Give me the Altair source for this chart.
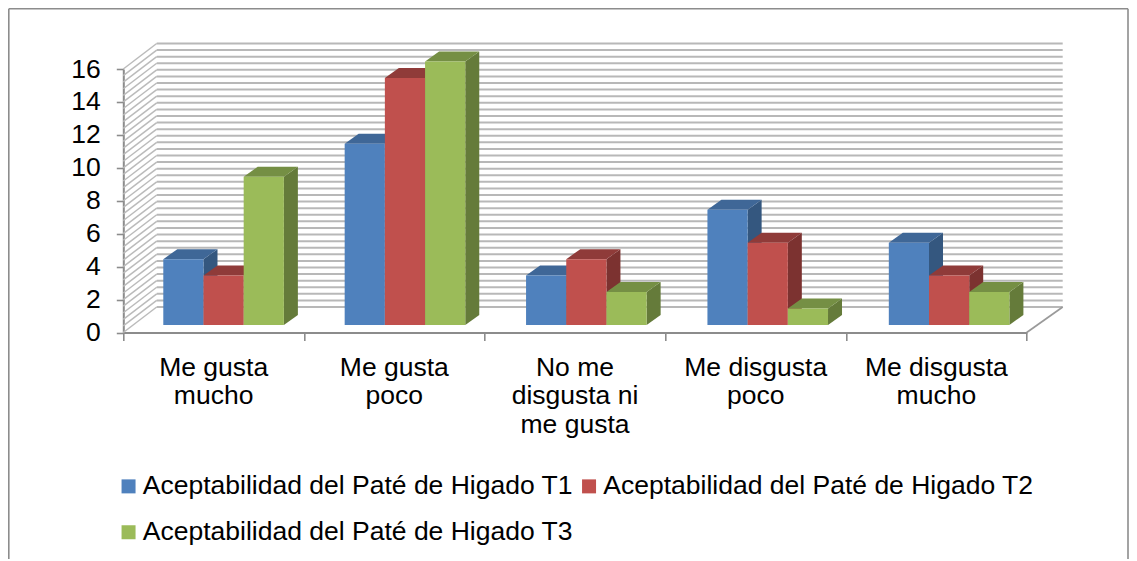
import altair as alt
import pandas as pd

categories = ["Me gusta\nmucho", "Me gusta\npoco", "No me\ndisgusta ni\nme gusta", "Me disgusta\npoco", "Me disgusta\nmucho"]
series = ["Aceptabilidad del Paté de Higado T1", "Aceptabilidad del Paté de Higado T2", "Aceptabilidad del Paté de Higado T3"]
t1 = [4, 11, 3, 7, 5]
t2 = [3, 15, 4, 5, 3]
t3 = [9, 16, 2, 1, 2]
front_colors = ["#4F81BD", "#C0504D", "#9BBB59"]
top_colors = ["#3F6797", "#8F3B39", "#758F44"]
side_colors = ["#34577F", "#7C3230", "#657B3A"]
y_ticks = [0, 2, 4, 6, 8, 10, 12, 14, 16]
x_ticks = [0, 1, 2, 3, 4, 5]

FONT = "Liberation Sans"
FS = 26.5
PX_X = 180.7   # pixels per category
PX_Y = 16.47   # pixels per value unit
WALL_L = 33.4 / PX_X
WALL_R = 36 / PX_X
WALL_UP = 25.5 / PX_Y
GRID_STEP = 0.4
BAR_START = 40 / PX_X
BAR_PITCH = 181.4 / PX_X
BAR_W = 40.2 / PX_X
BAR_DX = 14 / PX_X
BAR_DY = 10 / PX_Y
FLOOR = 7.5 / PX_Y

xs = alt.Scale(domain=[0, 5], nice=False, zero=False)
ys = alt.Scale(domain=[0, 16], nice=False, zero=False)
x_axis = alt.Axis(values=x_ticks, labels=False, grid=False, tickSize=8, tickWidth=1.6, tickColor="#8C8C8C",
                  domainColor="#8C8C8C", domainWidth=2)
y_axis = alt.Axis(values=y_ticks, grid=False, tickSize=7, tickWidth=1.6, tickColor="#8C8C8C",
                  domainColor="#8C8C8C", domainWidth=2, labelFont=FONT, labelFontSize=FS,
                  labelColor="#000000", labelPadding=16, format="d")
X = lambda f="x": alt.X(f"{f}:Q", scale=xs, axis=x_axis, title=None)
Y = lambda f="y": alt.Y(f"{f}:Q", scale=ys, axis=y_axis, title=None)

# walls
wall = []
for k in range(41):
    v = k * GRID_STEP
    wall += [
        dict(id=k, x=0, y=v, part="side"),
        dict(id=k, x=WALL_L, y=v + WALL_UP, part="side"),
        dict(id=k + 100, x=WALL_L, y=v + WALL_UP, part="back"),
        dict(id=k + 100, x=5 + WALL_R, y=v + WALL_UP, part="back"),
    ]
wall_df = pd.DataFrame(wall)
side_grid = alt.Chart(wall_df[wall_df.part == "side"]).mark_line(color="#BBBBBB", strokeWidth=1.5).encode(
    x=X(), y=Y(), detail="id:N", order="x:Q")
back_grid = alt.Chart(wall_df[wall_df.part == "back"]).mark_line(color="#B8B8B8", strokeWidth=2).encode(
    x=X(), y=Y(), detail="id:N", order="x:Q")
floor_df = pd.DataFrame([dict(x=5, y=0), dict(x=5 + WALL_R, y=WALL_UP)])
floor_edge = alt.Chart(floor_df).mark_line(color="#9A9A9A", strokeWidth=1.7).encode(x=X(), y=Y())

# bars
layers = []
for s, (name, vals) in enumerate(zip(series, [t1, t2, t3])):
    side_rows, top_rows, front_rows = [], [], []
    for c, v in enumerate(vals):
        x0 = c * BAR_PITCH + BAR_START + s * BAR_W
        x1 = x0 + BAR_W
        h = FLOOR + v
        side_rows += [dict(c=c, x=x1, lo=FLOOR, hi=h),
                      dict(c=c, x=x1 + BAR_DX, lo=FLOOR + BAR_DY, hi=h + BAR_DY)]
        top_rows += [dict(c=c, x=x0, lo=h, hi=h),
                     dict(c=c, x=x0 + BAR_DX, lo=h, hi=h + BAR_DY),
                     dict(c=c, x=x1, lo=h, hi=h + BAR_DY),
                     dict(c=c, x=x1 + BAR_DX, lo=h + BAR_DY, hi=h + BAR_DY)]
        front_rows.append(dict(x0=x0, x1=x1, lo=FLOOR, hi=h, serie=name, value=v))
    layers.append(alt.Chart(pd.DataFrame(side_rows)).mark_area(
        color=side_colors[s], orient="vertical").encode(
        x=X(), y=Y("lo"), y2=alt.Y2("hi"), detail="c:N"))
    layers.append(alt.Chart(pd.DataFrame(top_rows)).mark_area(
        color=top_colors[s], orient="vertical").encode(
        x=X(), y=Y("lo"), y2=alt.Y2("hi"), detail="c:N"))
    layers.append(alt.Chart(pd.DataFrame(front_rows)).mark_rect().encode(
        x=X("x0"), x2=alt.X2("x1"), y=Y("lo"), y2=alt.Y2("hi"),
        color=alt.Color("serie:N", scale=alt.Scale(domain=series, range=front_colors), title=None,
                        legend=alt.Legend(
                            orient="none", legendX=-8, legendY=404, columns=2, direction="horizontal",
                            symbolType="square", symbolSize=196, symbolStrokeWidth=0, symbolOpacity=1,
                            labelFont=FONT, labelFontSize=FS, labelColor="#000000", labelLimit=600,
                            rowPadding=19, columnPadding=2.5, padding=0, labelOffset=1))))

# category labels
cat_df = pd.DataFrame({"x": [i + 0.5 for i in range(5)], "label": categories})
cats = alt.Chart(cat_df).mark_text(
    font=FONT, fontSize=FS, color="#000000", lineBreak="\n", lineHeight=28.7, baseline="top", align="center"
).encode(x=X(), y=alt.value(285.6), text="label:N")

# frame
frame_df = pd.DataFrame({"a": [0]})
FL, FT, FR, FB = -114.5, -60.2, 1004.7, 490
frame = [
    alt.Chart(frame_df).mark_rule(color="#8C8C8C", strokeWidth=1.6).encode(
        x=alt.value(FL), y=alt.value(FT), y2=alt.value(FB)),
    alt.Chart(frame_df).mark_rule(color="#8C8C8C", strokeWidth=1.6).encode(
        x=alt.value(FR), y=alt.value(FT), y2=alt.value(FB)),
    alt.Chart(frame_df).mark_rule(color="#8C8C8C", strokeWidth=1.6).encode(
        y=alt.value(FT), x=alt.value(FL), x2=alt.value(FR)),
]

chart = alt.layer(*frame, side_grid, back_grid, floor_edge, *layers, cats).properties(
    width=903.4, height=263.5,
    padding={"left": 115.3, "top": 61, "right": 102.3, "bottom": 228},
    autosize=alt.AutoSizeParams(type="none"),
    background="#FFFFFF",
).configure_view(stroke=None)

chart.save("out.html", embed_options={"renderer": "svg", "actions": False})
